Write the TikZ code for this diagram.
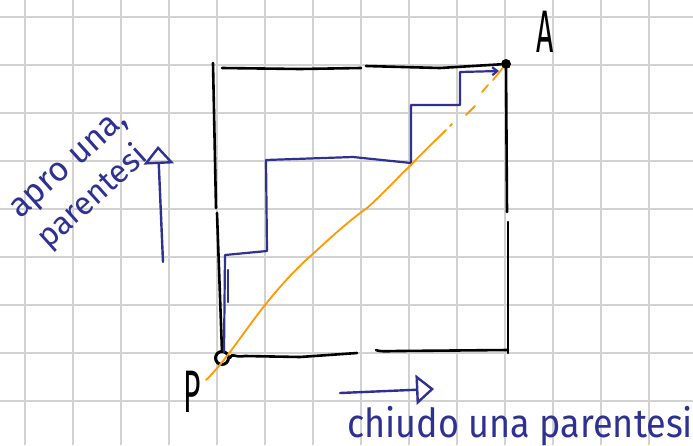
\documentclass[tikz,border=0pt]{standalone}
\usepackage{fontspec}
\setmainfont{Fira Sans}
\usetikzlibrary{arrows.meta}
\definecolor{handblue}{RGB}{46,49,146}
\definecolor{handorange}{RGB}{255,153,0}
\definecolor{gridgray}{RGB}{210,210,210}
\tikzset{
  gridline/.style={gridgray, line width=1.6pt},
  boxline/.style={black, line width=2.6pt, line cap=round, line join=round},
  bluepath/.style={handblue, line width=2.2pt, line cap=round, line join=round},
  orangeline/.style={handorange, line width=1.8pt, line cap=round, line join=round},
  bluetext/.style={handblue, inner sep=0pt, font=\fontsize{34}{36}\selectfont},
  bigletter/.style={black, inner sep=0pt, font=\fontsize{60}{60}\selectfont, xscale=0.5},
  openarrow/.style={handblue, line width=2.4pt, line cap=round,
    -{Triangle[open, length=18pt, width=30pt]}}
}
\begin{document}
\begin{tikzpicture}[x=1pt, y=-1pt]
\useasboundingbox (0,0) rectangle (693,445);
\fill[white] (0,0) rectangle (693,445);
% grid
\foreach \x in {25,73,...,649} \draw[gridline] (\x,0) -- (\x,445);
\foreach \y in {17,65,...,401} \draw[gridline] (0,\y) -- (693,\y);

% points
\node[circle, draw=black, line width=3pt, minimum size=13pt, inner sep=0pt] (P) at (222,358) {};
\node[circle, fill=black, minimum size=10pt, inner sep=0pt] (A) at (506,64) {};
\node[bigletter] (Plabel) at (192,392) {P};
\node[bigletter] (Alabel) at (545,32) {A};

% square
\draw[boxline] (213,63) -- (216,208);
\draw[boxline] (217,213) -- (222,352);
\draw[boxline] (222,68) -- (300,69) -- (361,68);
\draw[boxline] (366,66) -- (440,68) -- (A);
\draw[boxline] (A) -- (507,212);
\draw[boxline] (508,222) -- (508,353);
\draw[boxline] (P.east) .. controls (232,352) and (234,358) .. (245,356) -- (300,357) -- (357,353);
\draw[boxline] (376,350) .. controls (380,352) and (390,351) .. (400,351) -- (508,350);

% blue staircase
\coordinate (b0) at (224,352);
\coordinate (bend) at (499,71);
\draw[bluepath, -{Straight Barb[length=5pt, width=8pt]}] (b0) -- (225,255) -- (267,251) -- (266,160) -- (353,157) -- (411,163)
  -- (411,105) -- (460,105) -- (460,72) -- (bend);
\draw[bluepath] (228,270) -- (228,302);

% orange diagonal
\coordinate (o0) at (206,380);
\draw[orangeline] (o0) .. controls (225,362) and (245,330) .. (265,305)
  .. controls (285,280) and (300,265) .. (315,252)
  .. controls (330,238) and (350,220) .. (367,208)
  .. controls (385,192) and (400,175) .. (411,165)
  .. controls (425,150) and (438,138) .. (446,130);
\draw[orangeline] (450,126) -- (452,124);
\draw[orangeline] (466,115) -- (475,106);
\draw[orangeline] (482,92) -- (488,85);
\draw[orangeline] (493,80) -- (A);

% left arrow and text
\coordinate (la0) at (163,262);
\coordinate (la1) at (158,146);
\draw[openarrow] (la0) -- (la1);
\node[bluetext, rotate=42, anchor=base west] (apro) at (20,220) {apro una,};
\node[bluetext, rotate=42, anchor=base west, font=\fontsize{32}{34}\selectfont] (par1) at (48,250) {parentesi};

% bottom arrow and text
\coordinate (ba0) at (340,393);
\coordinate (ba1) at (434,389);
\draw[openarrow] (ba0) -- (ba1);
\node[bluetext, anchor=base west, font=\fontsize{40}{42}\selectfont, xscale=0.9] (chiudo) at (347,437) {chiudo una parentesi};
\end{tikzpicture}
\end{document}
